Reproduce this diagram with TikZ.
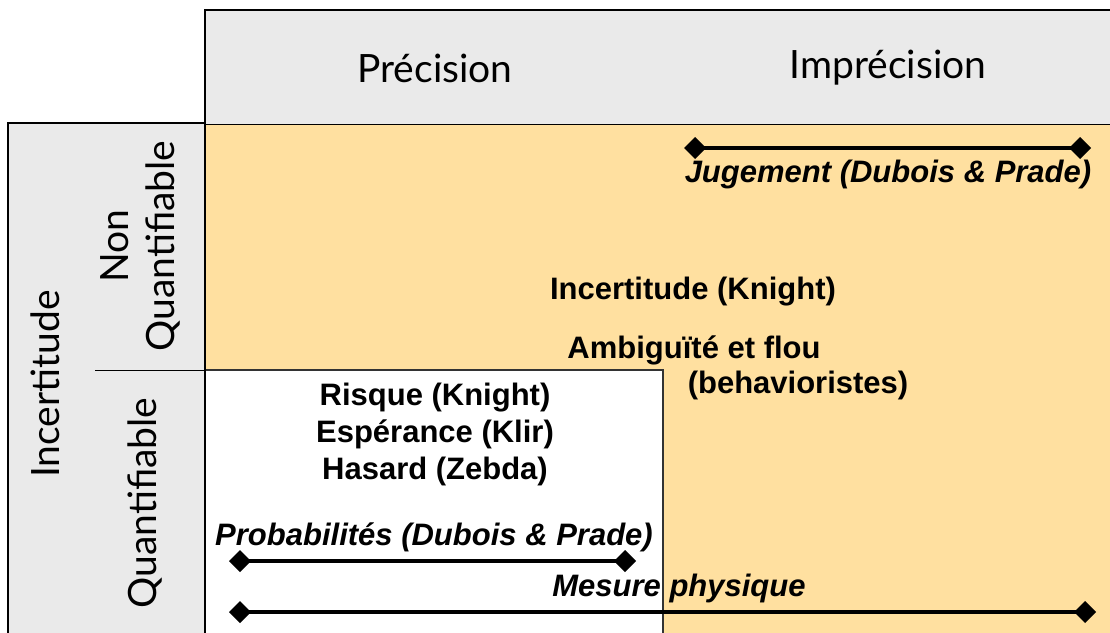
\documentclass[tikz,border=0pt]{standalone}
\usepackage{fontspec}
\setmainfont{Liberation Sans}
\newfontfamily\hdrfont{Lato}
\usetikzlibrary{arrows.meta}
\definecolor{hdrgray}{HTML}{EAEAEA}
\definecolor{cellorange}{HTML}{FFE0A0}
\begin{document}
\begin{tikzpicture}[x=1pt,y=-1pt,
  hdr/.style={font=\hdrfont\fontsize{39}{46}\selectfont, inner sep=0pt, align=center},
  lbl/.style={font=\bfseries\fontsize{31}{37}\selectfont, inner sep=0pt, align=center},
  ilbl/.style={font=\bfseries\itshape\fontsize{31}{37}\selectfont, inner sep=0pt},
  span/.style={line width=3.5pt, {Diamond[length=22pt,width=22pt]}-{Diamond[length=22pt,width=22pt]}},
]
\useasboundingbox (0,0) rectangle (1110,632);
\begin{scope}
\clip (0,0) rectangle (1110,632);
\fill[cellorange] (205,124) rectangle (1120,640);
\fill[white] (205,370) rectangle (663,640);
\draw[line width=1.2pt, black!80] (205,370) -- (663,370) -- (663,640);
\fill[hdrgray] (205,10) rectangle (1120,124);
\draw[line width=2pt] (205,124) -- (205,10) -- (1120,10);
\draw[line width=1pt] (205,124) -- (1120,124);
\filldraw[fill=hdrgray, draw=black, line width=2pt] (8,640) -- (8,123) -- (205,123) -- (205,640);
\draw[line width=1pt] (95,370) -- (205,370);
\end{scope}

\node[hdr] (prec) at (435,68) {Précision};
\node[hdr] (imprec) at (888,68) {Imprécision};
\node[hdr, rotate=90] (inc) at (45,384) {Incertitude};
\node[hdr, rotate=90] (nonq) at (140,246) {Non\\Quantifiable};
\node[hdr, rotate=90] (quant) at (145,503) {Quantifiable};

\node[lbl] (knight) at (693,292) {Incertitude (Knight)};
\node[lbl] (ambig) at (694,350) {Ambiguïté et flou};
\node[lbl] (behav) at (798,385) {(behavioristes)};
\node[lbl] (risque) at (435,434) {Risque (Knight)\\Espérance (Klir)\\Hasard (Zebda)};

\node[ilbl] (jug) at (888,174) {Jugement (Dubois \& Prade)};
\node[ilbl] (proba) at (434,537) {Probabilités (Dubois \& Prade)};
\node[ilbl] (mesure) at (679,588) {Mesure physique};

\coordinate (jugL) at (684,148);
\coordinate (jugR) at (1091,148);
\coordinate (probL) at (229,561);
\coordinate (probR) at (636,561);
\coordinate (mesL) at (229,612);
\coordinate (mesR) at (1096,612);
\draw[span] (jugL) -- (jugR);
\draw[span] (probL) -- (probR);
\draw[span] (mesL) -- (mesR);
\end{tikzpicture}
\end{document}
